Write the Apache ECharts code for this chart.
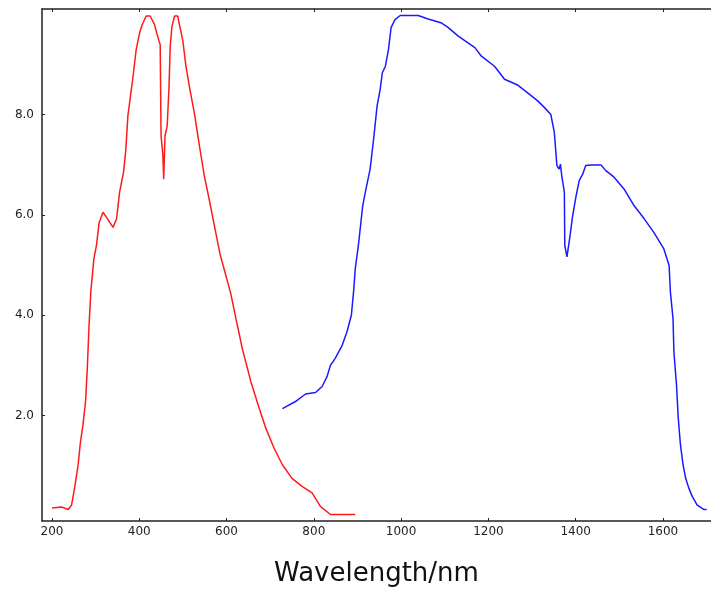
<!DOCTYPE html>
<html>
<head>
<meta charset="utf-8">
<script src="https://cdn.jsdelivr.net/npm/echarts@6/dist/echarts.min.js"></script>
<style>
html,body{margin:0;padding:0;background:#fff;}
#chart{width:711px;height:592px;}
</style>
</head>
<body>
<div id="chart"></div>
<script>
const xTicks = [200, 400, 600, 800, 1000, 1200, 1400, 1600];
const yTicks = [2, 4, 6, 8];
const xAxisTitle = 'Wavelength/nm';

const redWavelength = [200,222,237,245,252,260,265,271,277,281,285,289,296,302,308,317,325,340,348,355,364,369,374,380,385,393,401,407,416,425,435,442,448,450,454,456,459,464,468,471,475,481,488,496,500,507,516,526,538,549,560,572,585,595,610,621,629,636,656,675,690,709,728,750,773,796,815,838,895];
const redIntensity = [0.16,0.18,0.13,0.22,0.56,1.02,1.45,1.81,2.28,2.94,3.80,4.46,5.12,5.39,5.84,6.05,5.95,5.75,5.92,6.45,6.85,7.27,7.97,8.37,8.70,9.29,9.63,9.79,9.96,9.96,9.79,9.56,9.39,7.57,7.21,6.71,7.57,7.77,8.50,9.36,9.76,9.96,9.96,9.63,9.46,8.96,8.50,8.04,7.37,6.78,6.32,5.79,5.22,4.90,4.42,3.95,3.63,3.34,2.67,2.14,1.75,1.35,1.02,0.75,0.59,0.46,0.19,0.03,0.03];

const blueWavelength = [728,758,781,804,819,830,838,849,865,876,886,891,895,901,903,912,918,929,937,945,952,957,964,971,977,986,998,1039,1062,1093,1108,1131,1169,1184,1214,1237,1245,1268,1290,1313,1328,1343,1351,1357,1362,1365,1368,1374,1375,1380,1386,1393,1401,1408,1416,1423,1435,1458,1469,1488,1511,1534,1557,1579,1602,1614,1617,1623,1625,1631,1635,1640,1646,1652,1659,1667,1678,1693,1700];
const blueIntensity = [2.14,2.28,2.43,2.46,2.58,2.77,3.00,3.14,3.40,3.67,4.00,4.46,4.93,5.32,5.46,6.18,6.45,6.91,7.51,8.17,8.50,8.83,8.96,9.29,9.73,9.89,9.97,9.97,9.90,9.82,9.73,9.56,9.33,9.16,8.96,8.70,8.67,8.58,8.43,8.27,8.14,8.00,7.64,6.98,6.91,7.01,6.78,6.45,5.39,5.16,5.52,5.98,6.38,6.68,6.81,6.98,6.99,6.99,6.88,6.75,6.51,6.18,5.92,5.65,5.32,4.99,4.46,3.93,3.27,2.61,1.95,1.42,1.02,0.75,0.56,0.39,0.22,0.13,0.13];

const pair = (xs, ys) => xs.map((x, i) => [x, ys[i]]);

const chart = echarts.init(document.getElementById('chart'), null, {renderer: 'canvas'});
const axisColor = '#222';
const labelFont = {fontFamily: 'DejaVu Sans', fontSize: 12, color: '#222'};

chart.setOption({
  animation: false,
  backgroundColor: '#fff',
  grid: {left: 42, top: 9, right: -3, bottom: 69, containLabel: false},
  xAxis: [{
    type: 'value', position: 'bottom', min: 177.2, max: 1710,
    axisLine: {show: true, onZero: false, lineStyle: {color: axisColor, width: 1.5}},
    axisTick: {show: true, inside: true, length: 3, customValues: xTicks, lineStyle: {color: axisColor}},
    axisLabel: Object.assign({show: true, margin: 5, customValues: xTicks, formatter: v => String(v)}, labelFont),
    splitLine: {show: false},
    name: xAxisTitle, nameLocation: 'middle', nameGap: 40,
    nameTextStyle: {fontFamily: 'DejaVu Sans', fontSize: 26, color: '#111'}
  }, {
    type: 'value', position: 'top', min: 177.2, max: 1710,
    axisLine: {show: true, onZero: false, lineStyle: {color: axisColor, width: 1.5}},
    axisTick: {show: true, inside: true, length: 3, customValues: xTicks, lineStyle: {color: axisColor}},
    axisLabel: {show: false},
    splitLine: {show: false}
  }],
  yAxis: {
    type: 'value', min: -0.1, max: 10.1,
    axisLine: {show: true, onZero: false, lineStyle: {color: axisColor, width: 1.5}},
    axisTick: {show: true, inside: true, length: 3, customValues: yTicks, lineStyle: {color: axisColor}},
    axisLabel: Object.assign({show: true, margin: 8, customValues: yTicks, formatter: v => v.toFixed(1)}, labelFont),
    splitLine: {show: false}
  },
  series: [{
    type: 'line', xAxisIndex: 0, data: pair(redWavelength, redIntensity),
    showSymbol: false, lineStyle: {color: '#ff1a1a', width: 1.5}, itemStyle: {color: '#ff1a1a'}
  }, {
    type: 'line', xAxisIndex: 0, data: pair(blueWavelength, blueIntensity),
    showSymbol: false, lineStyle: {color: '#1a1aff', width: 1.5}, itemStyle: {color: '#1a1aff'}
  }]
});
</script>
</body>
</html>
